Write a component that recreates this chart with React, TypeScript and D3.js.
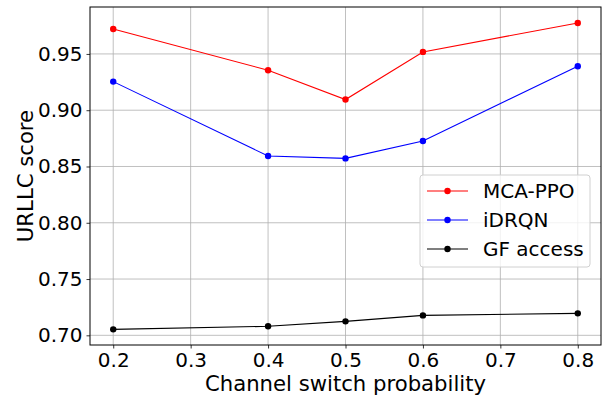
import React, { useRef, useEffect } from "react";
import * as d3 from "d3";

const PROBS = [0.2, 0.4, 0.5, 0.6, 0.8];
const MCA_PPO = [0.9722, 0.9355, 0.9095, 0.9518, 0.9775];
const IDRQN = [0.9254, 0.8593, 0.8572, 0.8726, 0.9391];
const GF_ACCESS = [0.7053, 0.708, 0.7124, 0.7177, 0.7195];

const X_TICKS = [0.2, 0.3, 0.4, 0.5, 0.6, 0.7, 0.8];
const Y_TICKS = [0.7, 0.75, 0.8, 0.85, 0.9, 0.95];

const SERIES = [
  { name: "MCA-PPO", values: MCA_PPO, color: "#ff0000" },
  { name: "iDRQN", values: IDRQN, color: "#0000ff" },
  { name: "GF access", values: GF_ACCESS, color: "#000000" },
];

function Chart() {
  const svgRef = useRef<SVGSVGElement>(null);

  useEffect(() => {
    const svg = d3.select(svgRef.current);
    const width = 605;
    const height = 397;
    const margin = { top: 7, right: 4, bottom: 52, left: 90 };
    const font = "DejaVu Sans, sans-serif";

    svg.attr("width", width).attr("height", height);
    svg.selectAll("*").remove();

    const x = d3.scaleLinear()
      .domain([0.17, 0.83])
      .range([margin.left, width - margin.right]);

    const y = d3.scaleLinear()
      .domain([0.6914, 0.9917])
      .range([height - margin.bottom, margin.top]);

    // grid
    const grid = svg.append("g");
    grid.selectAll("line.gx")
      .data(X_TICKS)
      .join("line")
      .attr("x1", d => x(d)).attr("x2", d => x(d))
      .attr("y1", margin.top).attr("y2", height - margin.bottom)
      .attr("stroke", "#b0b0b0").attr("stroke-width", 0.8);
    grid.selectAll("line.gy")
      .data(Y_TICKS)
      .join("line")
      .attr("x1", margin.left).attr("x2", width - margin.right)
      .attr("y1", d => y(d)).attr("y2", d => y(d))
      .attr("stroke", "#b0b0b0").attr("stroke-width", 0.8);

    // axes
    const xAxis = svg.append("g")
      .attr("transform", `translate(0, ${height - margin.bottom})`)
      .call(d3.axisBottom(x).tickValues(X_TICKS).tickFormat(d3.format(".1f")).tickSize(3.5).tickPadding(4));
    const yAxis = svg.append("g")
      .attr("transform", `translate(${margin.left}, 0)`)
      .call(d3.axisLeft(y).tickValues(Y_TICKS).tickFormat(d3.format(".2f")).tickSize(3.5).tickPadding(4));

    [xAxis, yAxis].forEach(a => {
      a.select(".domain").remove();
      a.selectAll("line").attr("stroke", "#000").attr("stroke-width", 0.8);
      a.selectAll("text")
        .attr("fill", "#000")
        .style("font-family", font)
        .style("font-size", "20px");
    });

    // frame
    svg.append("rect")
      .attr("x", margin.left).attr("y", margin.top)
      .attr("width", width - margin.right - margin.left)
      .attr("height", height - margin.bottom - margin.top)
      .attr("fill", "none").attr("stroke", "#000").attr("stroke-width", 1);

    // lines
    const line = d3.line<number>()
      .x((d, i) => x(PROBS[i]))
      .y(d => y(d));

    SERIES.forEach(s => {
      svg.append("path")
        .datum(s.values)
        .attr("d", line)
        .attr("fill", "none")
        .attr("stroke", s.color)
        .attr("stroke-width", 1.1);
      svg.append("g")
        .selectAll("circle")
        .data(s.values)
        .join("circle")
        .attr("cx", (d, i) => x(PROBS[i]))
        .attr("cy", d => y(d))
        .attr("r", 3.2)
        .attr("fill", s.color);
    });

    // labels
    svg.append("text")
      .attr("x", (margin.left + width - margin.right) / 2)
      .attr("y", 391)
      .attr("text-anchor", "middle")
      .style("font-family", font)
      .style("font-size", "21.2px")
      .text("Channel switch probability");

    svg.append("text")
      .attr("transform", `translate(33, ${(margin.top + height - margin.bottom) / 2}) rotate(-90)`)
      .attr("text-anchor", "middle")
      .style("font-family", font)
      .style("font-size", "21.2px")
      .text("URLLC score");

    // legend
    const legend = svg.append("g").attr("transform", "translate(420, 175)");
    legend.append("rect")
      .attr("width", 170).attr("height", 92)
      .attr("rx", 3)
      .attr("fill", "#fff").attr("fill-opacity", 0.8)
      .attr("stroke", "#d0d0d0").attr("stroke-width", 1);
    SERIES.forEach((s, i) => {
      const cy = 16 + i * 29;
      legend.append("line")
        .attr("x1", 7).attr("x2", 48)
        .attr("y1", cy).attr("y2", cy)
        .attr("stroke", s.color).attr("stroke-width", 1.1);
      legend.append("circle")
        .attr("cx", 27.5).attr("cy", cy).attr("r", 3.2)
        .attr("fill", s.color);
      legend.append("text")
        .attr("x", 63).attr("y", cy)
        .attr("dy", "0.35em")
        .style("font-family", font)
        .style("font-size", "20px")
        .text(s.name);
    });
  }, []);

  return <svg ref={svgRef}></svg>;
}

export default function App() {
  return (
    <div style={{ position: "absolute", left: 0, top: 0 }}>
      <Chart />
    </div>
  );
}
